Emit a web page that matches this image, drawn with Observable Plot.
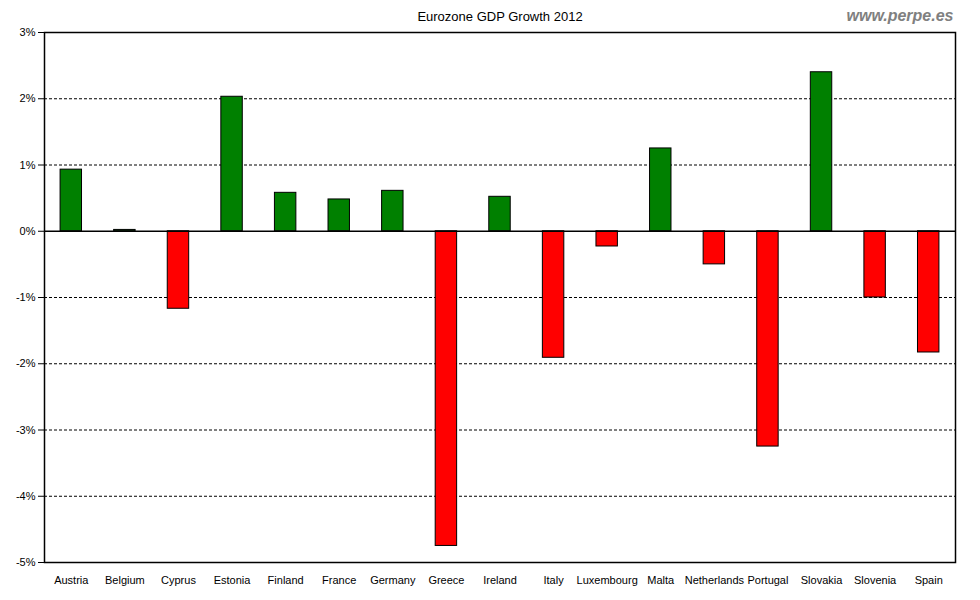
<!DOCTYPE html>
<html>
<head>
<meta charset="utf-8">
<script src="https://cdn.jsdelivr.net/npm/d3@7"></script>
<script src="https://cdn.jsdelivr.net/npm/@observablehq/plot@0.6"></script>
<style>
  html, body { margin: 0; padding: 0; background: #fff; }
  #chart svg { display: block; }
</style>
</head>
<body>
<div id="chart"></div>
<script>
const countries = ["Austria","Belgium","Cyprus","Estonia","Finland","France","Germany","Greece","Ireland","Italy","Luxembourg","Malta","Netherlands","Portugal","Slovakia","Slovenia","Spain"];
const growth = [0.93, 0.02, -1.17, 2.03, 0.58, 0.48, 0.61, -4.75, 0.52, -1.91, -0.23, 1.25, -0.50, -3.25, 2.40, -1.00, -1.83];
const yTicks = [-5, -4, -3, -2, -1, 0, 1, 2, 3];
const gridLines = [-4, -3, -2, -1, 1, 2];
const title = "Eurozone GDP Growth 2012";
const watermark = "www.perpe.es";

const data = countries.map((c, i) => ({country: c, value: growth[i]}));

const chart = Plot.plot({
  width: 980,
  height: 600,
  marginLeft: 44,
  marginRight: 25,
  marginTop: 32,
  marginBottom: 38,
  style: {fontFamily: "'Liberation Sans', Arial, sans-serif", fontSize: "11px", color: "#000", background: "#fff"},
  x: {domain: countries, paddingInner: 0.6, paddingOuter: 0.3, round: false, label: null, tickSize: 0, tickPadding: 14},
  y: {domain: [-5, 3], ticks: yTicks, tickFormat: d => d + "%", label: null, tickSize: 6, tickPadding: 3},
  marks: [
    Plot.ruleY(gridLines, {stroke: "#000", strokeDasharray: "3,2", strokeWidth: 1}),
    Plot.barY(data, {
      x: "country",
      y: "value",
      fill: d => d.value >= 0 ? "#008000" : "#ff0000",
      stroke: "#000",
      strokeWidth: 1
    }),
    Plot.ruleY([0], {stroke: "#000", strokeWidth: 1.5}),
    Plot.frame({stroke: "#000", strokeWidth: 1.5}),
    Plot.text([title], {frameAnchor: "top", fontSize: 13, fill: "#000", text: d => d, dy: -21}),
    Plot.text([watermark], {frameAnchor: "top-right", textAnchor: "end", dx: -2, dy: -23, fontSize: 16, fontWeight: "bold", fontStyle: "italic", fill: "#808080", text: d => d})
  ]
});
document.getElementById("chart").appendChild(chart);
</script>
</body>
</html>
